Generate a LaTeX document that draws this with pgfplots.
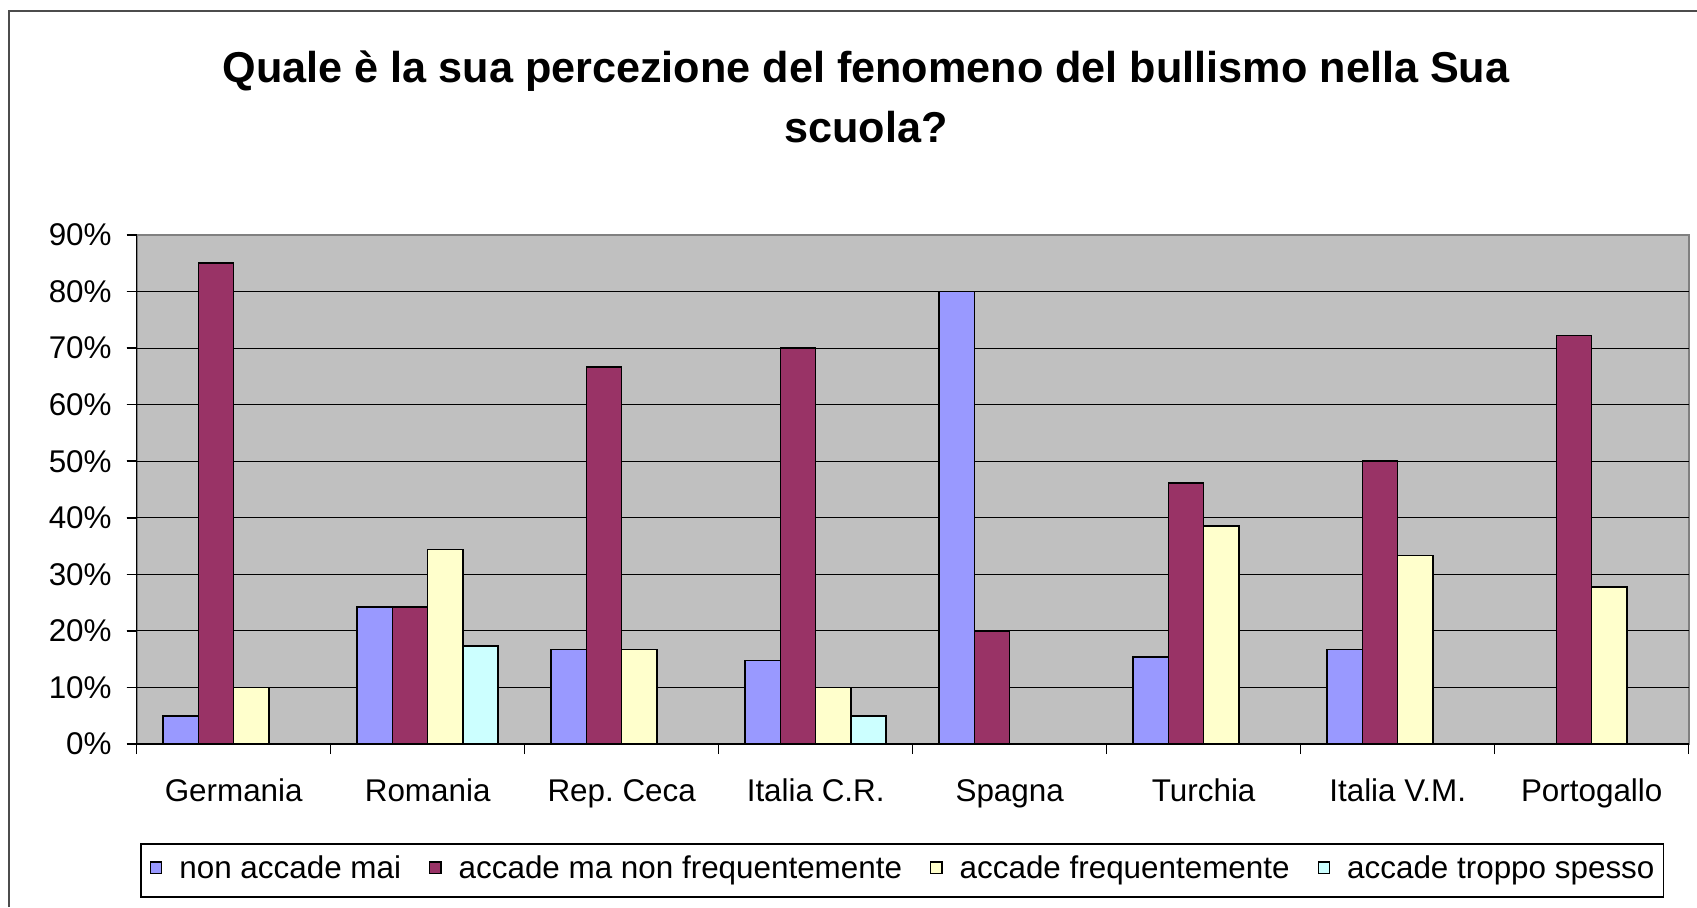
\documentclass[border=0pt]{standalone}
\usepackage{fontspec}
\setmainfont{Liberation Sans}
\usepackage{pgfplots}
\usepackage{pgfplotstable}
\pgfplotsset{compat=1.18}
\definecolor{cblue}{HTML}{9999FF}
\definecolor{cmaroon}{HTML}{993366}
\definecolor{cyellow}{HTML}{FFFFCC}
\definecolor{ccyan}{HTML}{CCFFFF}
\definecolor{bgc}{HTML}{C0C0C0}
\pgfplotsset{
  ybar legend/.style={/pgfplots/legend image code/.code={%
    \draw[#1, line width=0.7pt] (0pt,-1.3pt) rectangle (5.6pt,4.3pt);}},
}
\pgfplotstableread{
x y
0 5
1 24.2
2 16.7
3 14.8
4 80
5 15.4
6 16.7
}\datamai
\pgfplotstableread{
x y
0 85
1 24.2
2 66.7
3 70
4 20
5 46.2
6 50
7 72.2
}\datararo
\pgfplotstableread{
x y
0 10
1 34.4
2 16.7
3 10
5 38.5
6 33.3
7 27.8
}\datafreq
\pgfplotstableread{
x y
1 17.3
3 5
}\datatroppo
\begin{document}
\begin{tikzpicture}
\useasboundingbox (-68.35pt,-81.5pt) rectangle (780.15pt,372pt);
\draw[line width=1pt, black!70] (-64pt,-81.5pt) -- (-64pt,366.5pt) -- (780.15pt,366.5pt);
\begin{axis}[
  at={(0pt,0pt)}, anchor=south west,
  scale only axis, width=776pt, height=254.5pt,
  xmin=-0.5, xmax=7.5, ymin=0, ymax=90,
  ybar=0pt, bar width=17.65pt,
  every axis plot/.append style={draw=black, line width=0.8pt},
  axis x line*=bottom, axis y line*=left,
  axis line style={black, line width=0.8pt},
  axis background/.style={fill=bgc, draw=gray, line width=1pt},
  tick align=outside, major tick length=5pt,
  tick style={black, line width=0.8pt},
  xtick={-0.5,0.5,...,7.5}, xticklabels={},
  extra x ticks={0,1,2,3,4,5,6,7},
  extra x tick labels={Germania,Romania,Rep.\ Ceca,Italia C.R.,Spagna,Turchia,Italia V.M.,Portogallo},
  extra x tick style={major tick length=0pt, tick style={draw=none}},
  xticklabel style={anchor=base, yshift=-28.85pt},
  ytick={0,10,...,90},
  extra y ticks={10,20,...,80}, extra y tick labels={},
  extra y tick style={grid=major, major grid style={black, line width=0.5pt}},
  /pgf/number format/assume math mode=true,
  yticklabel={\pgfmathprintnumber{\tick}\%},
  yticklabel style={anchor=east, xshift=-4pt},
  ticklabel style={font=\fontsize{15.7}{18}\selectfont},
  legend columns=4,
  legend style={at={(axis description cs:0.4932,-0.2487)}, anchor=center,
    draw=black, line width=0.8pt, fill=white,
    inner xsep=4.5pt, inner ysep=5.8pt,
    font=\fontsize{15.7}{18}\selectfont,
    nodes={inner sep=0pt, text height=11.5pt, text depth=3.5pt},
    /tikz/every odd column/.append style={column sep=8.5pt},
    /tikz/every even column/.append style={column sep=14pt}},
]
\addplot[fill=cblue] table[x=x,y=y] {\datamai};
\addplot[fill=cmaroon] table[x=x,y=y] {\datararo};
\addplot[fill=cyellow] table[x=x,y=y] {\datafreq};
\addplot[fill=ccyan] table[x=x,y=y] {\datatroppo};
\legend{non accade mai,accade ma non frequentemente,accade frequentemente,accade troppo spesso}
\end{axis}
\node[anchor=base, font=\fontsize{21.6}{26}\selectfont\bfseries] at (364.6pt,330.65pt) {Quale è la sua percezione del fenomeno del bullismo nella Sua};
\node[anchor=base, font=\fontsize{21.6}{26}\selectfont\bfseries] at (364.6pt,300.9pt) {scuola?};
\end{tikzpicture}
\end{document}
